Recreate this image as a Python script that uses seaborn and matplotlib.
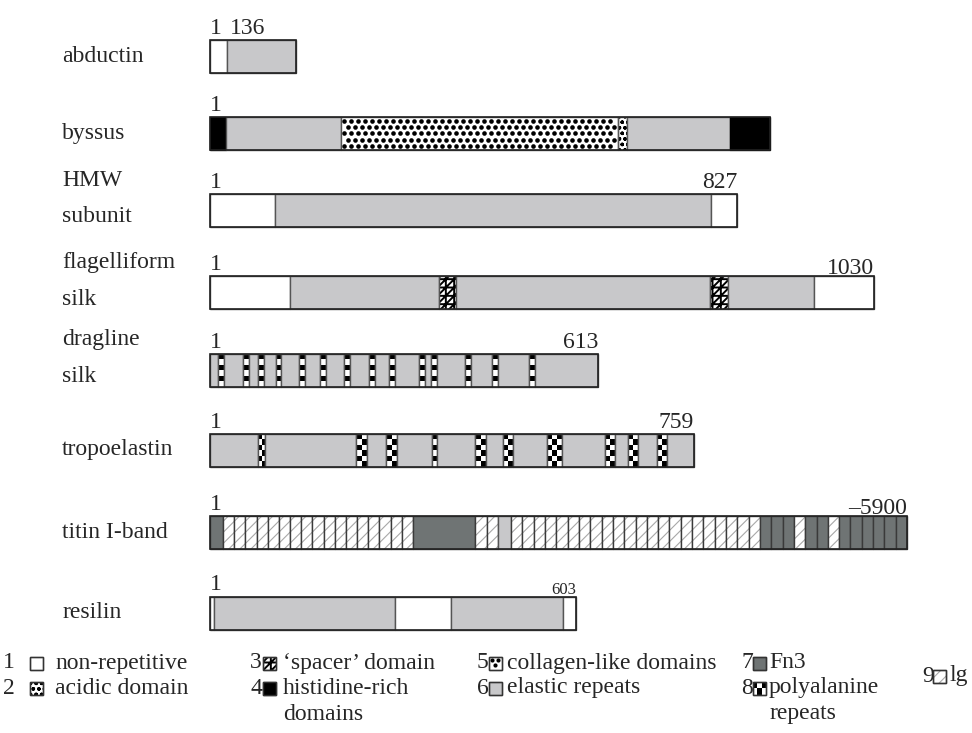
import seaborn as sns
import matplotlib.pyplot as plt
import numpy as np

# -------------------------------
# Domain data (drawing units from the N-terminus)
# types: 1 non-repetitive, 2 acidic, 3 spacer, 4 histidine-rich,
#        5 collagen-like, 6 elastic, 7 Fn3, 8 polyalanine, 9 Ig
# -------------------------------
proteins = ["abductin", "byssus", "HMW\nsubunit", "flagelliform\nsilk",
            "dragline\nsilk", "tropoelastin", "titin I-band", "resilin"]

abductin_edges = [0, 17, 86]
abductin_types = [1, 6]

byssus_edges = [0, 16, 131, 408, 417, 520, 560]
byssus_types = [4, 6, 5, 2, 6, 4]

hmw_edges = [0, 65, 501, 527]
hmw_types = [1, 6, 1]

flag_edges = [0, 80, 229, 246, 500, 518, 604, 664]
flag_types = [1, 6, 3, 6, 3, 6, 1]

dragline_edges = [0, 8, 14, 33, 39, 48, 53.5, 66, 71, 89, 95, 110, 116, 134,
                  139.5, 159, 165, 179, 185, 209, 215, 221, 227, 255, 261,
                  282, 288, 319, 325, 388]
dragline_types = [6] + [8, 6] * 14

tropo_edges = [0, 48, 55, 146, 157, 176, 187, 222, 227, 265, 276, 293, 303,
               337, 352, 395, 405, 418, 428, 447, 457, 484]
tropo_types = [6] + [8, 6] * 10

titin_edges = [0, 13, 203, 265, 288, 301, 550, 584, 595, 618, 629, 697]
titin_types = [7, 9, 7, 9, 6, 9, 7, 9, 7, 9, 7]
titin_counts = [1, 17, 1, 2, 1, 22, 3, 1, 2, 1, 6]

resilin_edges = [0, 3.5, 185, 241, 353, 366]
resilin_types = [1, 6, 1, 6, 1]

start_labels = ["1"] * 8
end_labels = ["136", "", "827", "1030", "613", "759", "\u20135900", "603"]

legend_nums = ["1", "2", "3", "4", "5", "6", "7", "8", "9"]
legend_names = ["non-repetitive", "acidic domain", "\u2018spacer\u2019 domain",
                "histidine-rich\ndomains", "collagen-like domains",
                "elastic repeats", "Fn3", "polyalanine\nrepeats", "lg"]

rows = [
    (abductin_edges, abductin_types, None),
    (byssus_edges, byssus_types, None),
    (hmw_edges, hmw_types, None),
    (flag_edges, flag_types, None),
    (dragline_edges, dragline_types, None),
    (tropo_edges, tropo_types, None),
    (titin_edges, titin_types, titin_counts),
    (resilin_edges, resilin_types, None),
]

# -------------------------------
# Layout / style
# -------------------------------
sns.set_style("white")
plt.rcParams["font.family"] = ["Liberation Serif", "DejaVu Serif"]

X0 = 210
ROW_Y = [56, 133.5, 210, 292.5, 370, 450, 532, 613]
BAR_H = 33
FS = 17

GRAY = "#C8C8CA"
DARK = "#6F7474"
EDGE = "#555555"

fig = plt.figure(figsize=(9.72, 7.33), dpi=100)
ax = fig.add_axes([0, 0, 1, 1])
ax.set_xlim(0, 972)
ax.set_ylim(733, 0)
ax.axis("off")


def hatched(y, left, width, h, pattern, color, hlw):
    with plt.rc_context({"hatch.linewidth": hlw}):
        bars = ax.barh(y, width, left=left, height=h, color="white",
                       edgecolor=color, lw=0, hatch=pattern)
    for p in bars.patches:
        if hasattr(p, "set_hatch_linewidth"):
            p.set_hatch_linewidth(hlw)


def dotted(y, left, width, h, dx, dy, size):
    # staggered filled dots (collagen-like pattern)
    ax.barh(y, width, left=left, height=h, color="white", lw=0)
    ys = np.arange(y - h / 2 + dy * 0.55, y + h / 2 - dy * 0.3, dy)
    px, py = [], []
    for r, yy in enumerate(ys):
        xs = np.arange(left + dx * (0.45 + 0.5 * (r % 2)), left + width - 1.5, dx)
        px.extend(xs)
        py.extend([yy] * len(xs))
    ax.scatter(px, py, s=size, color="black", linewidths=0, marker="o", zorder=3)


def draw_piece(y, left, width, kind, h):
    if kind == 1:
        ax.barh(y, width, left=left, height=h, color="white", edgecolor=EDGE, lw=1)
    elif kind == 2:
        hatched(y, left, width, h, "ooo", "black", 1.0)
        ax.barh(y, width, left=left, height=h, fill=False, edgecolor=EDGE, lw=1)
    elif kind == 3:
        hatched(y, left, width, h, "////++", "black", 1.4)
        ax.barh(y, width, left=left, height=h, fill=False, edgecolor=EDGE, lw=1)
    elif kind == 4:
        ax.barh(y, width, left=left, height=h, color="black", edgecolor="black", lw=1)
    elif kind == 5:
        if h > 20:
            dotted(y, left, width, h, 7.0, 6.4, 11)
        else:
            dotted(y, left, width, h, 6.0, 5.5, 9)
        ax.barh(y, width, left=left, height=h, fill=False, edgecolor=EDGE, lw=1,
                zorder=4)
    elif kind == 6:
        ax.barh(y, width, left=left, height=h, color=GRAY, edgecolor=EDGE, lw=1)
    elif kind == 7:
        ax.barh(y, width, left=left, height=h, color=DARK, edgecolor="#3a3a3a", lw=1)
    elif kind == 8:
        ax.barh(y, width, left=left, height=h, color="white", lw=0)
        ncol = max(1, int(round(width / 4.5)))
        nrow = max(2, int(round(h / 5.5)))
        cw, ch = width / ncol, h / nrow
        for i in range(nrow):
            for j in range(ncol):
                if (i + j) % 2 == 0:
                    ax.barh(y - h / 2 + (i + 0.5) * ch, cw, left=left + j * cw,
                            height=ch, color="black", lw=0)
        ax.barh(y, width, left=left, height=h, fill=False, edgecolor=EDGE, lw=1)
    elif kind == 9:
        hatched(y, left, width, h, "///", "#A8A8A8", 0.8)
        ax.barh(y, width, left=left, height=h, fill=False, edgecolor="#3a3a3a", lw=1)


for (edges, types, counts), y, name, s_lab, e_lab in zip(
        rows, ROW_Y, proteins, start_labels, end_labels):
    if counts is None:
        counts = [1] * len(types)
    for a, b, kind, n in zip(edges[:-1], edges[1:], types, counts):
        step = (b - a) / n
        for k in range(n):
            draw_piece(y, X0 + a + k * step, step, kind, BAR_H)
    ax.barh(y, edges[-1], left=X0, height=BAR_H, fill=False,
            edgecolor="#222222", lw=1.2, zorder=5)

    # protein name
    if "\n" in name:
        first, second = name.split("\n")
        ax.text(62, y - 30, first, fontsize=FS, va="center", ha="left")
        ax.text(62, y + 7, second, fontsize=FS, va="center", ha="left")
    else:
        ax.text(62, y, name, fontsize=FS, va="center", ha="left")

    top = y - BAR_H / 2
    ax.text(X0, top - 6, s_lab, fontsize=FS, va="baseline", ha="left")
    if e_lab:
        end_x = X0 + edges[-1]
        if name == "abductin":
            ax.text(X0 + 20, top - 6, e_lab, fontsize=FS, va="baseline", ha="left")
        elif name == "resilin":
            ax.text(end_x, top - 2, e_lab, fontsize=12, va="baseline", ha="right")
        elif name in ("titin I-band", "flagelliform\nsilk"):
            ax.text(end_x, top - 2, e_lab, fontsize=FS, va="baseline", ha="right")
        else:
            ax.text(end_x, top - 5, e_lab, fontsize=FS, va="baseline", ha="right")

# -------------------------------
# Legend (number, swatch, name)
# -------------------------------
LEG_X = [(3, 30, 55), (3, 30, 55), (250, 263, 283), (250, 263, 283),
         (477, 489, 507), (477, 489, 507), (741, 753, 769), (741, 753, 769),
         (922, 933, 949)]
LEG_Y = [663, 688, 663, 688, 663, 688, 663, 688, 676]
BOX = 13

for num, lab, kind, (xn, xb, xt), y in zip(legend_nums, legend_names,
                                            range(1, 10), LEG_X, LEG_Y):
    ax.text(xn, y, num, fontsize=FS, va="center", ha="left")
    draw_piece(y, xb, BOX, kind, BOX)
    ax.barh(y, BOX, left=xb, height=BOX, fill=False, edgecolor="#333333", lw=1,
            zorder=5)
    if "\n" in lab:
        first, second = lab.split("\n")
        ax.text(xt, y, first, fontsize=FS, va="center", ha="left")
        ax.text(xt, y + 26, second, fontsize=FS, va="center", ha="left")
    else:
        ax.text(xt, y, lab, fontsize=FS, va="center", ha="left")

plt.savefig("out.png", dpi=100)
plt.close()
